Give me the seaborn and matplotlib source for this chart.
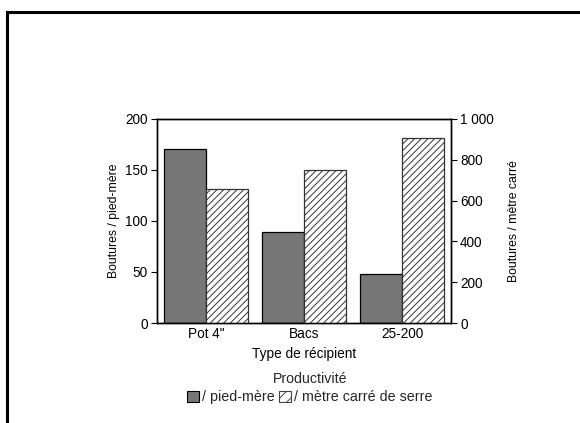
import pandas as pd
import numpy as np
import matplotlib
matplotlib.use("Agg")
import matplotlib.pyplot as plt
import seaborn as sns
from matplotlib.patches import Patch
from matplotlib.lines import Line2D
from matplotlib.ticker import FuncFormatter

# Data
recipients = ["Pot 4\"", "Bacs", "25-200"]
par_pied = [171, 89, 48]          # boutures / pied-mère (left axis)
par_m2 = [655, 750, 905]          # boutures / mètre carré (right axis)
series = ["/ pied-mère", "/ mètre carré de serre"]

sns.set_theme(style="white")
plt.rcParams["font.family"] = ["Liberation Sans", "DejaVu Sans"]
plt.rcParams["hatch.color"] = "#666666"
plt.rcParams["hatch.linewidth"] = 0.7

df1 = pd.DataFrame({"recipient": recipients, "val": par_pied, "serie": series[0]})
df2 = pd.DataFrame({"recipient": recipients, "val": par_m2, "serie": series[1]})

fig = plt.figure(figsize=(5.8, 4.23), dpi=100)
ax = fig.add_axes([0.2707, 0.2364, 0.507, 0.4823])
ax2 = ax.twinx()

dark = "#777777"
sns.barplot(data=df1, x="recipient", y="val", hue="serie", hue_order=series,
            palette={series[0]: dark, series[1]: "white"}, dodge=True, width=0.86,
            edgecolor="black", linewidth=0.9, legend=False, ax=ax)
sns.barplot(data=df2, x="recipient", y="val", hue="serie", hue_order=series,
            palette={series[0]: dark, series[1]: "white"}, dodge=True, width=0.86,
            edgecolor="#333333", linewidth=0.9, hatch="/////", legend=False, ax=ax2)

ax.set_xlim(-0.5, 2.5)
ax.set_ylim(0, 200)
ax2.set_ylim(0, 1000)
ax.set_yticks([0, 50, 100, 150, 200])
ax2.set_yticks([0, 200, 400, 600, 800, 1000])
ax2.yaxis.set_major_formatter(FuncFormatter(lambda v, p: f"{int(v):,}".replace(",", " ")))

fs = 9.8
ax.set_xlabel("Type de récipient", fontsize=fs, color="black", labelpad=4)
ax.set_ylabel("Boutures / pied-mère", fontsize=8.8, color="black", labelpad=4)
ax2.set_ylabel("Boutures / mètre carré", fontsize=8.8, color="black", labelpad=10)
for a in (ax, ax2):
    a.tick_params(axis="y", labelsize=fs, colors="black", length=4, width=0.8, direction="out",
                  pad=2.5)
    for s in a.spines.values():
        s.set_color("black")
        s.set_linewidth(1.0)
ax.tick_params(axis="x", labelsize=fs, colors="black", length=0, pad=3)
ax.tick_params(axis="y", left=True)
ax2.tick_params(axis="y", right=True)

handles = [Patch(facecolor=dark, edgecolor="black", linewidth=0.8),
           Patch(facecolor="white", edgecolor="#444444", linewidth=0.8, hatch="///")]
fig.legend(handles, series, title="Productivité", loc="center",
           bbox_to_anchor=(0.534, 0.082), ncol=2, frameon=False, fontsize=10.3,
           title_fontsize=10.2, handlelength=0.8, handleheight=0.8,
           handletextpad=0.2, columnspacing=0.35, borderaxespad=0, labelspacing=0.3)

# page frame
fig.add_artist(Line2D([7 / 580, 7 / 580], [0, 1 - 12 / 423], color="black", lw=2.2,
                      solid_capstyle="projecting"))
fig.add_artist(Line2D([7 / 580, 1], [1 - 12 / 423, 1 - 12 / 423], color="black", lw=2.2,
                      solid_capstyle="projecting"))

fig.savefig("out.png", dpi=100)
